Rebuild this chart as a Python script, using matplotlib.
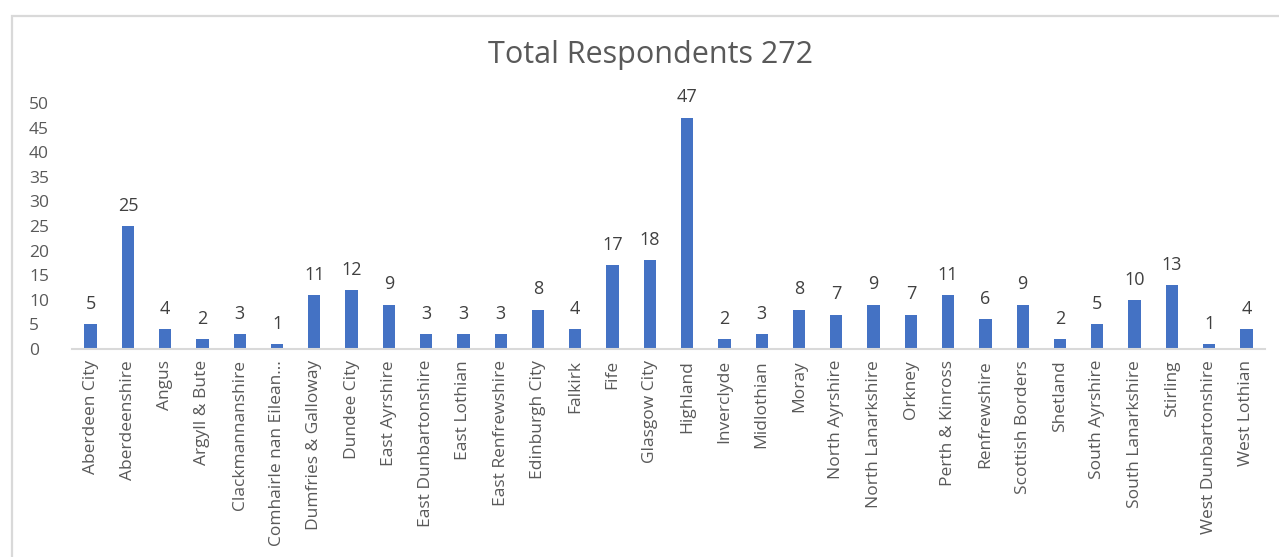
import numpy as np
import matplotlib.pyplot as plt
from matplotlib.patches import Rectangle

areas = ["Aberdeen City", "Aberdeenshire", "Angus", "Argyll & Bute", "Clackmannanshire",
         "Comhairle nan Eilean...", "Dumfries & Galloway", "Dundee City", "East Ayrshire",
         "East Dunbartonshire", "East Lothian", "East Renfrewshire", "Edinburgh City",
         "Falkirk", "Fife", "Glasgow City", "Highland", "Inverclyde", "Midlothian", "Moray",
         "North Ayrshire", "North Lanarkshire", "Orkney", "Perth & Kinross", "Renfrewshire",
         "Scottish Borders", "Shetland", "South Ayrshire", "South Lanarkshire", "Stirling",
         "West Dunbartonshire", "West Lothian"]
respondents = [5, 25, 4, 2, 3, 1, 11, 12, 9, 3, 3, 3, 8, 4, 17, 18, 47, 2, 3, 8,
               7, 9, 7, 11, 6, 9, 2, 5, 10, 13, 1, 4]
title = "Total Respondents 272"

plt.rcParams['font.family'] = ['Open Sans', 'DejaVu Sans']

W, H = 1279, 557
fig = plt.figure(figsize=(W / 100, H / 100), dpi=100)

# chart border like the Excel chart area
fig.patches.append(Rectangle((11.5 / W, -0.1), 2.0, (H - 16) / H + 0.1,
                             transform=fig.transFigure, fill=False,
                             edgecolor='#d9d9d9', linewidth=1.6))

ax = fig.add_axes([72 / W, (H - 349) / H, (1265 - 72) / W, (349 - 103) / H])
x = np.arange(len(areas))
ax.bar(x, respondents, width=0.33, color='#4472C4')
for xi, v in zip(x, respondents):
    ax.annotate(str(v), (xi, v), xytext=(0, 11), textcoords='offset points',
                ha='center', va='baseline', fontsize=13, color='#404040',
                annotation_clip=False)

ax.set_xlim(-0.5, len(areas) - 0.5)
ax.set_ylim(0, 50)
ax.set_yticks(np.arange(0, 51, 5))
ax.set_xticks(x)
ax.set_xticklabels(areas, rotation=90, fontsize=12.5, color='#595959')
ax.tick_params(axis='y', length=0, labelsize=12.5, labelcolor='#595959', pad=31)
ax.tick_params(axis='x', length=0, pad=8)
for lab in ax.get_yticklabels():
    lab.set_horizontalalignment('left')
for s in ['top', 'right', 'left']:
    ax.spines[s].set_visible(False)
ax.spines['bottom'].set_color('#d9d9d9')
ax.spines['bottom'].set_linewidth(1.5)

fig.text(651 / W, 1 - 55 / H, title, ha='center', va='center', fontsize=22,
         color='#595959')

fig.savefig('out.png', dpi=100)
